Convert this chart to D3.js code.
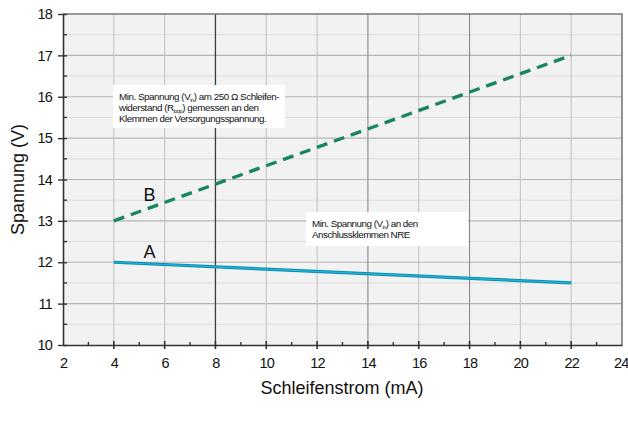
<!DOCTYPE html>
<html>
<head>
<meta charset="utf-8">
<script src="https://d3js.org/d3.v7.min.js"></script>
<style>
  body { margin: 0; background: #fff; }
  text { font-family: "Liberation Sans Narrow", "Arial Narrow", "Liberation Sans", sans-serif; fill: #111; }
</style>
</head>
<body>
<svg id="chart" width="628" height="421"></svg>
<script>
// values
const xTicks = [2, 4, 6, 8, 10, 12, 14, 16, 18, 20, 22, 24];
const yTicks = [10, 11, 12, 13, 14, 15, 16, 17, 18];
const current = [4, 22];          // Schleifenstrom (mA)
const voltageA = [12, 11.5];      // Anschlussklemmen NRE
const voltageB = [13, 17];        // am 250 Ohm Schleifenwiderstand
const lineLabels = [["A", 5.4, 12.1], ["B", 5.4, 13.47]];

const svg = d3.select("svg#chart");
const mLeft = 63, mRight = 622, mTop = 14, mBottom = 345;

const x = d3.scaleLinear().domain([2, 24]).range([mLeft, mRight]);
const y = d3.scaleLinear().domain([10, 18]).range([mBottom, mTop]);

// plot background
svg.append("rect")
  .attr("x", mLeft).attr("y", mTop)
  .attr("width", mRight - mLeft).attr("height", mBottom - mTop)
  .attr("fill", "#f2f2f2");

// horizontal grid: half-unit minor, integer major
const halfY = d3.range(10.5, 18, 1);
svg.selectAll("line.hminor").data(halfY).join("line")
  .attr("x1", mLeft).attr("x2", mRight)
  .attr("y1", d => y(d)).attr("y2", d => y(d))
  .attr("stroke", "#dcdcdc").attr("stroke-width", 1);
svg.selectAll("line.hmajor").data(yTicks.slice(1, -1)).join("line")
  .attr("x1", mLeft).attr("x2", mRight)
  .attr("y1", d => y(d)).attr("y2", d => y(d))
  .attr("stroke", "#b5b5b5").attr("stroke-width", 1.2);

// vertical grid
const vShade = d => d === 8 ? "#3d3d3d" : (d === 14 || d === 18 ? "#8a8a8a" : "#c4c4c4");
svg.selectAll("line.v").data(xTicks.slice(1, -1)).join("line")
  .attr("x1", d => x(d)).attr("x2", d => x(d))
  .attr("y1", mTop).attr("y2", mBottom)
  .attr("stroke", vShade).attr("stroke-width", d => d === 8 ? 1.3 : 1.1);

// frame top/right
svg.append("path")
  .attr("d", `M${mLeft},${mTop}H${mRight}V${mBottom}`)
  .attr("fill", "none").attr("stroke", "#7a7a7a").attr("stroke-width", 1.6);

// axes
const yAxis = d3.axisLeft(y).tickValues(yTicks).tickSizeInner(5).tickSizeOuter(0).tickPadding(6);
const gy = svg.append("g").attr("transform", `translate(${mLeft},0)`).call(yAxis);
const xAxis = d3.axisBottom(x).tickValues(xTicks).tickSizeInner(0).tickSizeOuter(0).tickPadding(13);
const gx = svg.append("g").attr("transform", `translate(0,${mBottom})`).call(xAxis);
[gx, gy].forEach(g => {
  g.select(".domain").attr("stroke", "#333").attr("stroke-width", 1.6);
  g.selectAll(".tick line").attr("stroke", "#333").attr("stroke-width", 1.4);
  g.selectAll(".tick text").attr("font-size", 14.5).attr("fill", "#111")
    .attr("letter-spacing", -0.8)
    .style("font-family", '"Liberation Sans Narrow", "Arial Narrow", sans-serif');
});
// last x label sits flush with the right edge
gx.selectAll(".tick text").filter(d => d === 24).attr("text-anchor", "end").attr("dx", 6);
// y ticks also poke inside
gy.selectAll(".tick line").attr("x1", 4);
// y minor ticks
svg.selectAll("line.yminor").data(halfY).join("line")
  .attr("x1", mLeft).attr("x2", mLeft + 4)
  .attr("y1", d => y(d)).attr("y2", d => y(d))
  .attr("stroke", "#333").attr("stroke-width", 1.4);
// x major ticks crossing the axis
svg.selectAll("line.xmajor").data(xTicks.slice(1, -1)).join("line")
  .attr("x1", d => x(d)).attr("x2", d => x(d))
  .attr("y1", mBottom - 4).attr("y2", mBottom + 4)
  .attr("stroke", "#333").attr("stroke-width", 1.6);
// x minor dots
svg.selectAll("line.xminor").data(d3.range(3, 24, 2)).join("line")
  .attr("x1", d => x(d)).attr("x2", d => x(d))
  .attr("y1", mBottom - 3).attr("y2", mBottom)
  .attr("stroke", "#333").attr("stroke-width", 1.4);

// series
const pts = vals => current.map((c, i) => [c, vals[i]]);
const line = d3.line().x(d => x(d[0])).y(d => y(d[1]));
svg.append("path").datum(pts(voltageA))
  .attr("d", line).attr("fill", "none")
  .attr("stroke", "#0b8fb3").attr("stroke-width", 3.2);
svg.append("path").datum(pts(voltageA))
  .attr("d", line).attr("fill", "none")
  .attr("stroke", "#22b3d6").attr("stroke-width", 1.2);
svg.append("path").datum(pts(voltageB))
  .attr("d", line).attr("fill", "none")
  .attr("stroke", "#17875a").attr("stroke-width", 3.4)
  .attr("stroke-dasharray", "11,7");

svg.selectAll("text.lbl").data(lineLabels).join("text")
  .attr("x", d => x(d[1])).attr("y", d => y(d[2]))
  .attr("text-anchor", "middle")
  .attr("font-size", 18)
  .style("font-family", '"Liberation Sans", sans-serif')
  .text(d => d[0]);

// annotation boxes
function note(x0, y0, w, h, lines, ls) {
  svg.append("rect").attr("x", x0).attr("y", y0).attr("width", w).attr("height", h)
    .attr("fill", "#fff");
  lines.forEach((parts, i) => {
    const t = svg.append("text").attr("x", x0 + 6).attr("y", y0 + 15 + i * 11)
      .attr("font-size", 9.8).attr("letter-spacing", ls);
    parts.forEach(p => {
      const s = t.append("tspan").text(p[0]);
      if (p[1]) s.attr("font-size", 5.5).attr("dy", 2);
      if (p[2]) s.attr("dy", -2);
    });
  });
}
note(113, 85, 172, 43, [
  [["Min. Spannung (V"], ["in", 1], [") am 250 \u03A9 Schleifen-", 0, 1]],
  [["widerstand (R"], ["loop", 1], [") gemessen an den", 0, 1]],
  [["Klemmen der Versorgungsspannung."]]
], -0.45);
note(306, 212, 162, 34, [
  [["Min. Spannung (V"], ["in", 1], [") an den", 0, 1]],
  [["Anschlussklemmen NRE"]]
], -0.5);

// axis titles
svg.append("text")
  .attr("transform", `translate(24,${(mTop + mBottom) / 2}) rotate(-90)`)
  .attr("text-anchor", "middle").attr("font-size", 18)
  .text("Spannung (V)");
svg.append("text")
  .attr("x", 342).attr("y", 394)
  .attr("text-anchor", "middle").attr("font-size", 18)
  .text("Schleifenstrom (mA)");
</script>
</body>
</html>
